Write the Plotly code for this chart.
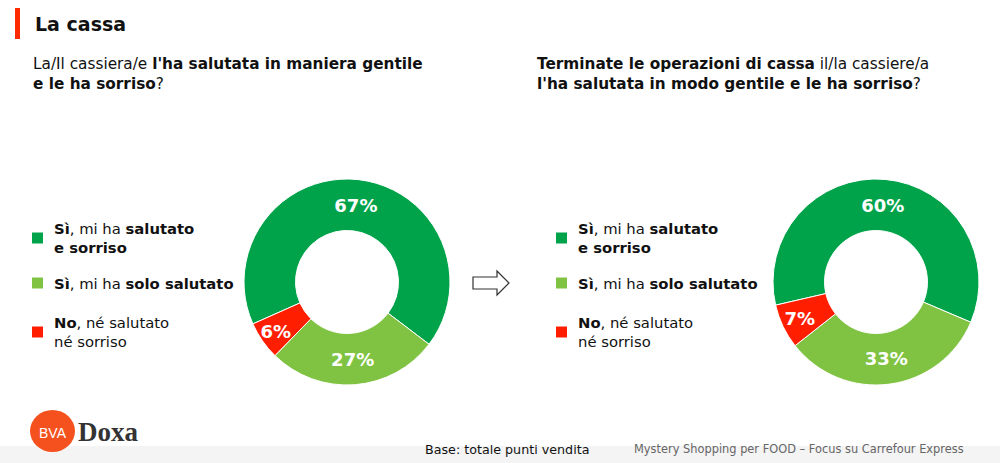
import plotly.graph_objects as go

categories = ["Sì, mi ha salutato e sorriso", "Sì, mi ha solo salutato", "No, né salutato né sorriso"]
legend_html = [
    "<b>Sì</b>, mi ha <b>salutato</b><br><b>e sorriso</b>",
    "<b>Sì</b>, mi ha <b>solo salutato</b>",
    "<b>No</b>, né salutato<br>né sorriso",
]
before_values = [67, 27, 6]
after_values = [60, 33, 7]
colors = ["#00A34A", "#80C342", "#FF1E00"]

W, H = 1000, 463
FONT = "DejaVu Sans"


def px(x):
    return x / W


def py(y):
    return 1 - y / H


fig = go.Figure()

for vals, cx, rot in [(before_values, 347, -114), (after_values, 876, -103)]:
    r = 103
    fig.add_trace(go.Pie(
        labels=categories, values=vals, hole=0.5, sort=False, direction="clockwise",
        rotation=rot,
        marker=dict(colors=colors, line=dict(color="white", width=1)),
        texttemplate="%{value}%", textposition="inside", insidetextorientation="horizontal",
        textfont=dict(family=FONT, size=18, color="white", weight="bold"),
        domain=dict(x=[px(cx - r), px(cx + r)], y=[py(282 + r), py(282 - r)]),
        showlegend=False, hoverinfo="label+value",
    ))

shapes = []
annotations = []

# title bar
shapes.append(dict(type="rect", xref="paper", yref="paper", x0=px(15), x1=px(20), y0=py(39), y1=py(8),
                   fillcolor="#FF2A00", line=dict(width=0)))
annotations.append(dict(text="<b>La cassa</b>", x=px(33), y=py(24), xref="paper", yref="paper",
                        xanchor="left", yanchor="middle", showarrow=False,
                        font=dict(family=FONT, size=19, color="#111")))

# questions
annotations.append(dict(text="La/Il cassiera/e <b>l'ha salutata in maniera gentile</b><br><b>e le ha sorriso</b>?",
                        x=px(31), y=py(74), xref="paper", yref="paper", xanchor="left", yanchor="middle",
                        align="left", showarrow=False, font=dict(family=FONT, size=15.3, color="#111")))
annotations.append(dict(text="<b>Terminate le operazioni di cassa</b> il/la cassiere/a<br><b>l'ha salutata in modo gentile e le ha sorriso</b>?",
                        x=px(535), y=py(74), xref="paper", yref="paper", xanchor="left", yanchor="middle",
                        align="left", showarrow=False, font=dict(family=FONT, size=15.3, color="#111")))

# legends
legend_y = [238, 283, 332]
for lx in [32, 556]:
    for i, (txt, col) in enumerate(zip(legend_html, colors)):
        yc = legend_y[i]
        shapes.append(dict(type="rect", xref="paper", yref="paper", x0=px(lx), x1=px(lx + 11),
                           y0=py(yc + 5.5), y1=py(yc - 5.5), fillcolor=col, line=dict(width=0)))
        annotations.append(dict(text=txt, x=px(lx + 20), y=py(yc), xref="paper", yref="paper",
                                xanchor="left", yanchor="middle", align="left", showarrow=False,
                                font=dict(family=FONT, size=14.8, color="#111")))

# arrow
ax0, ax1, ah, ay = 473, 509, 497, 283
path = (f"M {px(ax0)},{py(ay-6)} L {px(ah)},{py(ay-6)} L {px(ah)},{py(ay-12)} L {px(ax1)},{py(ay)} "
        f"L {px(ah)},{py(ay+12)} L {px(ah)},{py(ay+6)} L {px(ax0)},{py(ay+6)} Z")
shapes.append(dict(type="path", xref="paper", yref="paper", path=path, fillcolor="white",
                   line=dict(color="#333", width=1.2)))

# footer band
shapes.append(dict(type="rect", xref="paper", yref="paper", x0=0, x1=1, y0=0, y1=py(446),
                   fillcolor="#F4F4F4", line=dict(width=0), layer="below"))

# logo
shapes.append(dict(type="circle", xref="paper", yref="paper", x0=px(30), x1=px(75), y0=py(452), y1=py(410),
                   fillcolor="#F4511E", line=dict(width=0)))
annotations.append(dict(text="BVA", x=px(52.5), y=py(433), xref="paper", yref="paper",
                        xanchor="center", yanchor="middle", showarrow=False,
                        font=dict(family="Liberation Sans", size=14, color="white")))
annotations.append(dict(text="<b>Doxa</b>", x=px(76), y=py(432), xref="paper", yref="paper",
                        xanchor="left", yanchor="middle", showarrow=False,
                        font=dict(family="Liberation Serif", size=27, color="#333")))

annotations.append(dict(text="Base: totale punti vendita", x=px(423), y=py(449), xref="paper", yref="paper",
                        xanchor="left", yanchor="middle", showarrow=False,
                        font=dict(family=FONT, size=12.7, color="#111")))
annotations.append(dict(text="Mystery Shopping per FOOD – Focus su Carrefour Express", x=px(632), y=py(449),
                        xref="paper", yref="paper", xanchor="left", yanchor="middle", showarrow=False,
                        font=dict(family=FONT, size=11.4, color="#666")))

fig.update_layout(
    width=W, height=H, margin=dict(l=0, r=0, t=0, b=0),
    paper_bgcolor="white", plot_bgcolor="white",
    shapes=shapes, annotations=annotations,
    uniformtext=dict(minsize=18, mode="show"),
    font=dict(family=FONT),
)

fig.write_html("out.html")
